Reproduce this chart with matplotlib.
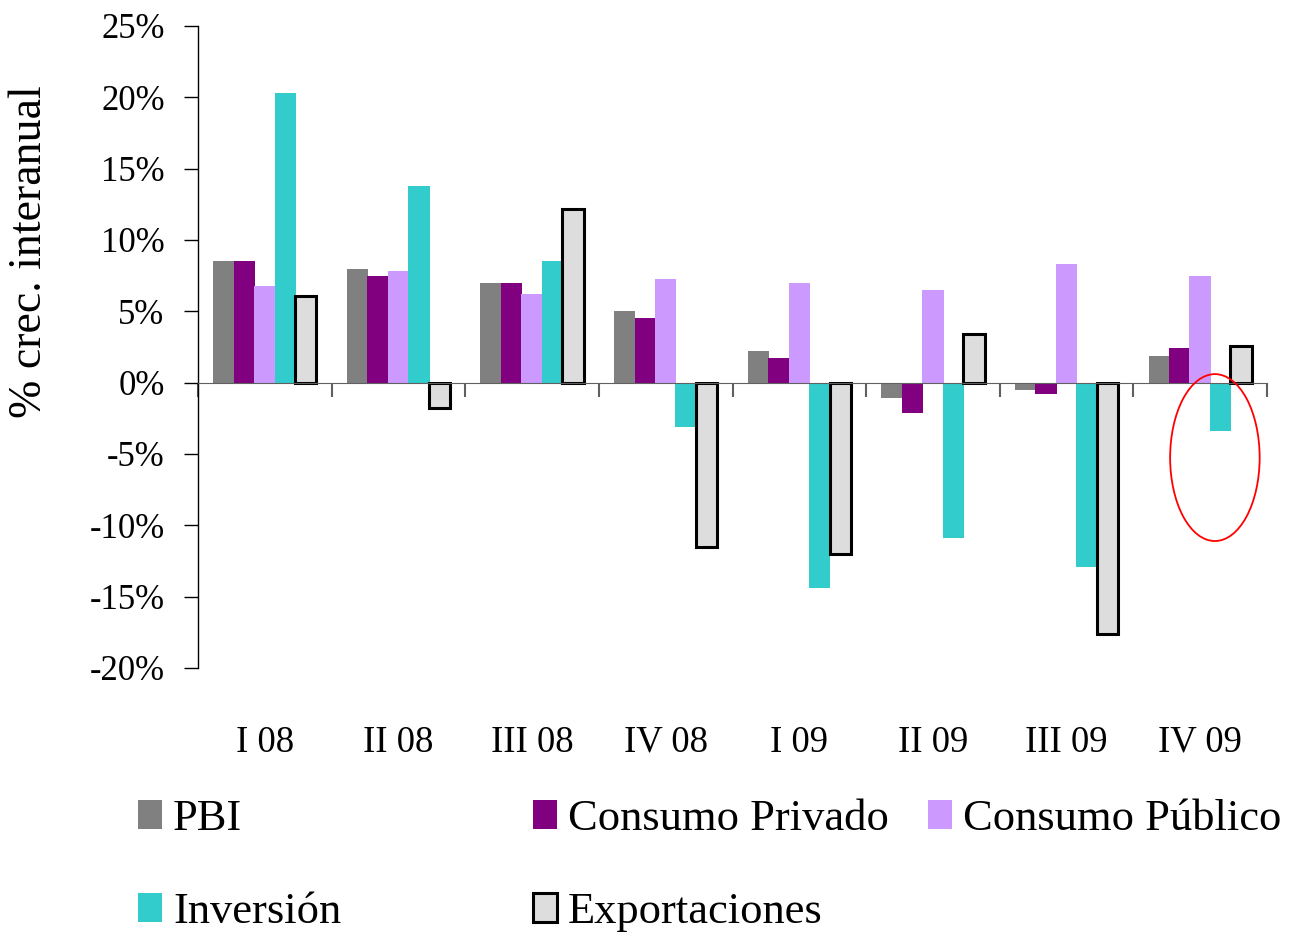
import matplotlib
matplotlib.use("Agg")
import matplotlib.pyplot as plt
import numpy as np
from matplotlib.patches import Ellipse, Patch
from matplotlib.ticker import FuncFormatter

plt.rcParams['font.family'] = ['Liberation Serif', 'DejaVu Serif']

quarters = ['I 08', 'II 08', 'III 08', 'IV 08', 'I 09', 'II 09', 'III 09', 'IV 09']
pbi = [8.5, 8.0, 7.0, 5.0, 2.2, -1.1, -0.5, 1.9]
consumo_privado = [8.5, 7.5, 7.0, 4.5, 1.7, -2.1, -0.8, 2.4]
consumo_publico = [6.8, 7.8, 6.2, 7.3, 7.0, 6.5, 8.3, 7.5]
inversion = [20.3, 13.8, 8.5, -3.1, -14.4, -10.9, -12.9, -3.4]
exportaciones = [6.1, -1.8, 12.2, -11.5, -12.0, 3.4, -17.6, 2.6]

series = [
    ('PBI', pbi, '#808080', 'none', 0),
    ('Consumo Privado', consumo_privado, '#800080', 'none', 0),
    ('Consumo Público', consumo_publico, '#CC99FF', 'none', 0),
    ('Inversión', inversion, '#33CCCC', 'none', 0),
    ('Exportaciones', exportaciones, '#DDDDDD', 'black', 2.2),
]

fig = plt.figure(figsize=(12.89, 9.36), dpi=100)
ax = fig.add_axes([198/1289, 1 - 668/936, (1267-198)/1289, (668-26)/936])

x = np.arange(len(quarters))
step = 0.153
width = 0.16
for i, (name, vals, color, edge, lw) in enumerate(series):
    ax.bar(x + (i - 2) * step, vals, width, color=color, edgecolor=edge,
           linewidth=lw, label=name, zorder=3 if lw else 2)

ax.set_xlim(-0.5, len(quarters) - 0.5)
ax.set_ylim(-20, 25)
ax.set_yticks(np.arange(-20, 26, 5))
ax.yaxis.set_major_formatter(FuncFormatter(lambda v, p: f'{v:.0f}%'))
ax.tick_params(axis='y', direction='out', length=10, width=1, pad=14,
               labelsize=25, color='black')

ax.spines['top'].set_visible(False)
ax.spines['right'].set_visible(False)
ax.spines['left'].set_linewidth(1)
ax.spines['bottom'].set_position(('data', 0))
ax.spines['bottom'].set_color('#606060')
ax.spines['bottom'].set_zorder(4)

ax.set_xticks(x)
ax.set_xticklabels([])
ax.tick_params(axis='x', which='major', length=0)
ax.set_xticks(np.arange(-0.5, len(quarters), 1), minor=True)
ax.tick_params(axis='x', which='minor', direction='out', length=10,
               width=1.5, color='#606060')

for xi, q in zip(x, quarters):
    ax.text(xi, -0.116, q, transform=ax.get_xaxis_transform(),
            ha='center', va='center', fontsize=26.5)

fig.text(30/1289, 1 - 252/936, '% crec. interanual', rotation=90,
         ha='center', va='center', fontsize=33)

ax.add_patch(Ellipse((7.11, -5.25), 0.67, 11.7, fill=False,
                     edgecolor='red', linewidth=1.3, zorder=5))

# legend entries placed like the original cells
legend_pos = [(138/1289, 1 - 819/936), (533/1289, 1 - 819/936),
              (928/1289, 1 - 819/936), (138/1289, 1 - 912/936),
              (533/1289, 1 - 912/936)]
for (name, vals, color, edge, lw), pos in zip(series, legend_pos):
    h = Patch(facecolor=color, edgecolor=edge, linewidth=lw)
    fig.legend([h], [name], loc='center left', bbox_to_anchor=pos,
               frameon=False, fontsize=32, handlelength=0.54,
               handleheight=0.64, handletextpad=0.25, borderpad=0,
               borderaxespad=0)

fig.savefig('out.png', dpi=100)
